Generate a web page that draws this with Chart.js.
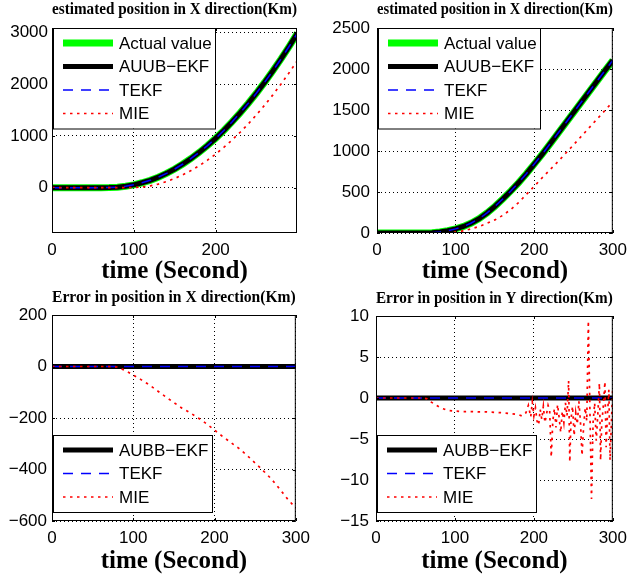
<!DOCTYPE html>
<html>
<head>
<meta charset="utf-8">
<script src="https://cdn.jsdelivr.net/npm/chart.js@4.4.1/dist/chart.umd.min.js"></script>
<style>
  body { margin: 0; background: #fff; }
  #wrap { position: relative; width: 634px; height: 578px; }
  canvas { position: absolute; }
</style>
</head>
<body>
<div id="wrap">
  <canvas id="c1" width="317" height="289" style="left:0;top:0"></canvas>
  <canvas id="c2" width="317" height="289" style="left:317px;top:0"></canvas>
  <canvas id="c3" width="317" height="289" style="left:0;top:289px"></canvas>
  <canvas id="c4" width="317" height="289" style="left:317px;top:289px"></canvas>
</div>
<script>
/* ================= DATA ================= */

const time10 = [0, 10, 20, 30, 40, 50, 60, 70, 80, 90, 100, 110, 120, 130, 140, 150,
  160, 170, 180, 190, 200, 210, 220, 230, 240, 250, 260, 270, 280, 290, 300];

// top left: estimated position
const actualPos1 = [0, 0, 0, 0, 0, 0, 0, 3, 10, 28, 55, 95, 142, 203, 276, 361,
  457, 564, 682, 812, 953, 1105, 1269, 1444, 1630, 1827, 2036, 2256, 2487, 2730, 2984];
const miePos1 = [0, 0, 0, 0, 0, 0, 0, 0, 0, 0, 3, 12, 35, 70, 118, 178,
  249, 331, 425, 531, 648, 777, 918, 1070, 1233, 1408, 1594, 1792, 2001, 2222, 2454];

// top right: estimated position
const actualPos2 = [0, 0, 0, 0, 0, 0, 0, 3, 12, 28, 50, 80, 122, 175, 245, 325,
  415, 510, 612, 722, 840, 958, 1085, 1213, 1341, 1469, 1597, 1725, 1853, 1981, 2105];
const miePos2 = [0, 0, 0, 0, 0, 0, 0, 0, 0, 3, 12, 27, 50, 80, 118, 160,
  215, 285, 370, 470, 570, 672, 770, 868, 972, 1075, 1180, 1285, 1390, 1495, 1600];

// bottom left: error in X
const mieErrX = [0, 0, 0, 0, 0, 0, 0, 0, -2, -15, -33, -52, -72, -95, -118, -140,
  -162, -180, -200, -222, -247, -272, -295, -318, -345, -375, -405, -437, -475, -515, -550];

// bottom right: error in Y
const timeErrY = [0, 10, 20, 30, 40, 50, 60, 65, 70, 75, 80, 85, 90, 100, 110, 120, 130,
  140, 150, 160, 170, 180, 185, 190, 193, 196, 198, 200, 202, 204, 206, 208, 210, 212, 214,
  216, 218, 220, 222, 224, 226, 228, 230, 232, 234, 236, 238, 240, 242, 244, 245.5, 247, 249,
  251, 253, 255, 257, 259, 261, 263, 265, 267, 269, 271, 273, 275, 277, 279, 281, 283, 284.5,
  286, 288, 290, 291.5, 293, 295, 296.5, 298, 300];
const mieErrY = [0, 0, 0, 0, 0, 0, 0, -0.1, -0.5, -0.8, -1.1, -1.3, -1.5, -1.6, -1.65, -1.65, -1.7,
  -1.7, -1.75, -1.8, -1.9, -2.0, -2.2, -1.8, -0.9, -2.3, -0.5, -2.2, -1.2, -2.8, -3.3, -1.4, -2.6, -1.0, -3.0,
  -2.0, -0.9, -1.5, -7.2, -2.8, -1.3, -3.6, -0.8, -2.4, -4.2, -1.6, -3.0, -0.6, -2.2, 2.1, -7.8, -2.6, -1.0,
  -4.6, -1.8, -3.2, -0.4, -2.9, -7.0, -3.5, -1.2, -2.8, 9.4, -1.5, -12.3, -3.0, -0.6, -5.2, -2.0, 1.8, -7.6,
  -3.0, -1.0, 2.0, -6.0, -2.5, 1.0, -7.6, -3.5, 1.5];

const zeroTime = [0, 300];
const zeroErr = [0, 0];

// ticks
const xTicks1 = [0, 100, 200];
const xTicks = [0, 100, 200, 300];
const yTicks1 = [0, 1000, 2000, 3000];
const yTicks2 = [0, 500, 1000, 1500, 2000, 2500];
const yTicks3 = [-600, -400, -200, 0, 200];
const yTicks4 = [-15, -10, -5, 0, 5, 10];

/* ================= STYLES ================= */

const W = 317, H = 289;
const TITLE_SIZE = 16.5;
const STYLE = {
  actual: { borderColor: "#00ff00", borderWidth: 7, order: 4 },
  ekf: { borderColor: "#000000", borderWidth: 5, order: 3 },
  tekf: { borderColor: "#0000ff", borderWidth: 1.5, borderDash: [10, 8], order: 2 },
  mie: { borderColor: "#ff0000", borderWidth: 1.7, borderDash: [2.5, 4.5], order: 1 }
};

function series(label, xs, ys, style) {
  return Object.assign({
    label: label,
    data: xs.map((x, i) => ({ x: x, y: ys[i] })),
    clip: 0,
    pointRadius: 0,
    fill: false
  }, style);
}

const minus = v => String(v).replace("-", "\u2212");

/* ================= PLUGINS ================= */

const framePlugin = {
  id: "frame",
  afterDatasetsDraw(chart) {
    const ctx = chart.ctx, a = chart.chartArea;
    ctx.save();
    ctx.strokeStyle = "#000";
    ctx.lineWidth = 1;
    ctx.setLineDash([]);
    ctx.strokeRect(a.left + 0.5, a.top + 0.5, a.width - 1, a.height - 1);
    ctx.beginPath();
    chart.scales.x.ticks.forEach(t => {
      const px = Math.round(chart.scales.x.getPixelForValue(t.value)) + 0.5;
      ctx.moveTo(px, a.bottom); ctx.lineTo(px, a.bottom - 3);
      ctx.moveTo(px, a.top); ctx.lineTo(px, a.top + 3);
    });
    chart.scales.y.ticks.forEach(t => {
      const py = Math.round(chart.scales.y.getPixelForValue(t.value)) + 0.5;
      ctx.moveTo(a.left, py); ctx.lineTo(a.left + 3, py);
      ctx.moveTo(a.right, py); ctx.lineTo(a.right - 3, py);
    });
    ctx.stroke();
    ctx.restore();
  }
};

const boxLegendPlugin = {
  id: "boxLegend",
  afterDraw(chart, args, o) {
    const ctx = chart.ctx, a = chart.chartArea;
    const ds = chart.data.datasets;
    const h = 30 + (ds.length - 1) * 23.5;
    const x = Math.round(a.left + o.left);
    const y = Math.round(o.top !== undefined ? a.top + o.top : a.bottom - o.bottom - h);
    ctx.save();
    ctx.fillStyle = "#fff";
    ctx.fillRect(x, y, o.width, h);
    ctx.strokeStyle = "#000";
    ctx.lineWidth = 1;
    ctx.strokeRect(x + 0.5, y + 0.5, o.width, h);
    ds.forEach((d, i) => {
      const ry = y + 15 + i * 23.5;
      ctx.beginPath();
      ctx.strokeStyle = d.borderColor;
      ctx.lineWidth = d.borderWidth;
      ctx.setLineDash(d.borderDash || []);
      ctx.moveTo(x + 10, ry);
      ctx.lineTo(x + 60, ry);
      ctx.stroke();
      ctx.setLineDash([]);
      ctx.fillStyle = "#000";
      ctx.font = '17px "Liberation Sans"';
      ctx.textBaseline = "middle";
      ctx.fillText(d.label, x + 66, ry + 1);
    });
    ctx.restore();
  }
};

/* ================= CHART BUILDER ================= */

Chart.defaults.color = "#000";

function makeChart(id, opt) {
  const tickFont = { family: "Liberation Sans", size: 17 };
  return new Chart(document.getElementById(id), {
    type: "line",
    data: { datasets: opt.datasets },
    options: {
      responsive: false,
      animation: false,
      layout: { padding: { left: 0, right: W - opt.area.right, top: 0, bottom: 0 } },
      plugins: {
        legend: { display: false },
        tooltip: { enabled: false },
        title: {
          display: true,
          text: opt.title,
          fullSize: false,
          color: "#000",
          font: { family: "Liberation Serif", size: TITLE_SIZE, weight: "bold", lineHeight: 1 },
          padding: { top: opt.titleTop, bottom: opt.area.top - opt.titleTop - TITLE_SIZE }
        },
        boxLegend: opt.legend
      },
      scales: {
        x: {
          type: "linear",
          min: opt.xMin,
          max: opt.xMax,
          afterBuildTicks: s => { s.ticks = opt.xTicks.map(v => ({ value: v })); },
          afterFit: s => { s.height = H - opt.area.bottom; },
          ticks: { padding: 7, font: tickFont, color: "#000", callback: minus, maxRotation: 0 },
          grid: { color: "#000", lineWidth: 1, drawTicks: false },
          border: { display: false, dash: [1, 3] },
          title: {
            display: true,
            text: "time (Second)",
            color: "#000",
            font: { family: "Liberation Serif", size: 25, weight: "bold", lineHeight: 1.2 },
            padding: { top: 0, bottom: opt.xTitleBottom }
          }
        },
        y: {
          type: "linear",
          min: opt.yMin,
          max: opt.yMax,
          afterBuildTicks: s => { s.ticks = opt.yTicks.map(v => ({ value: v })); },
          afterFit: s => { s.width = opt.area.left; },
          ticks: { padding: opt.yPad, font: tickFont, color: "#000", callback: minus },
          grid: { color: "#000", lineWidth: 1, drawTicks: false },
          border: { display: false, dash: [1, 3] }
        }
      }
    },
    plugins: [framePlugin, boxLegendPlugin]
  });
}

/* ================= CHARTS ================= */

makeChart("c1", {
  title: "estimated position in X direction(Km)",
  area: { left: 52, right: 297, top: 28, bottom: 233 },
  titleTop: 1.75, xTitleBottom: 2, yPad: 4,
  xMin: 0, xMax: 299.5, xTicks: xTicks1,
  yMin: -875, yMax: 3083, yTicks: yTicks1,
  legend: { left: 1, top: 0, width: 162 },
  datasets: [
    series("Actual value", time10, actualPos1, STYLE.actual),
    series("AUUB\u2212EKF", time10, actualPos1, STYLE.ekf),
    series("TEKF", time10, actualPos1, STYLE.tekf),
    series("MIE", time10, miePos1, STYLE.mie)
  ]
});

makeChart("c2", {
  title: "estimated position in X direction(Km)",
  area: { left: 60, right: 303, top: 28, bottom: 233 },
  titleTop: 1.75, xTitleBottom: 2, yPad: 7,
  xMin: 0, xMax: 300, xTicks: xTicks,
  yMin: 0, yMax: 2500, yTicks: yTicks2,
  legend: { left: 1, top: 0, width: 162 },
  datasets: [
    series("Actual value", time10, actualPos2, STYLE.actual),
    series("AUUB\u2212EKF", time10, actualPos2, STYLE.ekf),
    series("TEKF", time10, actualPos2, STYLE.tekf),
    series("MIE", time10, miePos2, STYLE.mie)
  ]
});

makeChart("c3", {
  title: "Error in position in X direction(Km)",
  area: { left: 52, right: 296, top: 26, bottom: 232 },
  titleTop: 0.75, xTitleBottom: 1, yPad: 5,
  xMin: 0, xMax: 300, xTicks: xTicks,
  yMin: -600, yMax: 200, yTicks: yTicks3,
  legend: { left: 1, bottom: 9, width: 159 },
  datasets: [
    series("AUBB\u2212EKF", zeroTime, zeroErr, STYLE.ekf),
    series("TEKF", zeroTime, zeroErr, STYLE.tekf),
    series("MIE", time10, mieErrX, STYLE.mie)
  ]
});

makeChart("c4", {
  title: "Error in position in Y direction(Km)",
  area: { left: 59, right: 303, top: 27, bottom: 232 },
  titleTop: 1.25, xTitleBottom: 1, yPad: 7,
  xMin: 0, xMax: 300, xTicks: xTicks,
  yMin: -15, yMax: 10, yTicks: yTicks4,
  legend: { left: 1, bottom: 9, width: 159 },
  datasets: [
    series("AUBB\u2212EKF", zeroTime, zeroErr, STYLE.ekf),
    series("TEKF", zeroTime, zeroErr, STYLE.tekf),
    series("MIE", timeErrY, mieErrY, STYLE.mie)
  ]
});
</script>
</body>
</html>
